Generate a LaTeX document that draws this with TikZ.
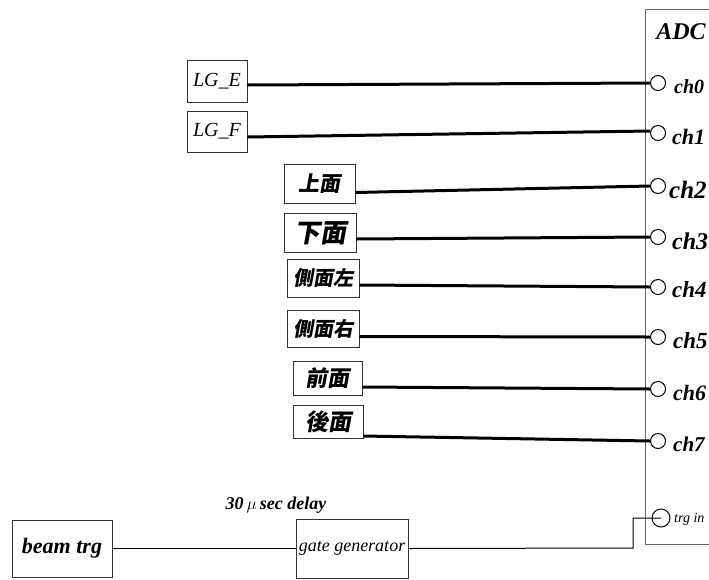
\documentclass[tikz,border=0pt]{standalone}
\usepackage{fontspec}
\setmainfont{Liberation Serif}
\newfontfamily\cjk[FakeSlant=0.18]{Noto Sans CJK JP}
\begin{document}
\begin{tikzpicture}[x=1pt,y=-1pt,
  box/.style={draw=black!80,line width=0.9pt,rectangle,inner sep=0pt},
  port/.style={draw=black,line width=1pt,circle,minimum size=15pt,inner sep=0pt},
  wire/.style={draw=black,line width=3pt},
  thinwire/.style={draw=black,line width=1pt},
  lab/.style={font=\itshape,inner sep=0pt,anchor=west}]
\useasboundingbox (0,0) rectangle (709,579);
\clip (0,0) rectangle (709,579);
% ADC
\node[box,draw=black!60,minimum width=80pt,minimum height=535pt] (adc) at (685,276.5) {};
\node[font=\itshape\bfseries\fontsize{24}{26}\selectfont,inner sep=0pt] (adct) at (681,32) {ADC};
% ports
\node[port] (c0) at (658,83) {};
\node[port] (c1) at (658,133) {};
\node[port] (c2) at (658,186) {};
\node[port] (c3) at (658,237) {};
\node[port] (c4) at (658,287) {};
\node[port] (c5) at (658,337) {};
\node[port] (c6) at (658,389) {};
\node[port] (c7) at (658,441) {};
\node[port,minimum size=18pt] (trg) at (661,518) {};
\node[lab,font=\itshape\bfseries\fontsize{20}{22}\selectfont] (l0) at (674,87) {ch0};
\node[lab,font=\itshape\bfseries\fontsize{22}{24}\selectfont] (l1) at (672,137) {ch1};
\node[lab,font=\itshape\bfseries\fontsize{25}{27}\selectfont] (l2) at (669,190) {ch2};
\node[lab,font=\itshape\bfseries\fontsize{24}{26}\selectfont] (l3) at (672,241) {ch3};
\node[lab,font=\itshape\bfseries\fontsize{23}{25}\selectfont] (l4) at (672,290) {ch4};
\node[lab,font=\itshape\bfseries\fontsize{23}{25}\selectfont] (l5) at (673,341) {ch5};
\node[lab,font=\itshape\bfseries\fontsize{22}{24}\selectfont] (l6) at (673,393) {ch6};
\node[lab,font=\itshape\bfseries\fontsize{21}{23}\selectfont] (l7) at (673,444) {ch7};
\node[lab,font=\itshape\fontsize{14}{16}\selectfont] (lt) at (674,519) {trg in};
% sources
\node[box,minimum width=60pt,minimum height=42pt,font=\itshape\fontsize{20}{22}\selectfont] (lge) at (217,81) {LG\_E};
\node[box,minimum width=60pt,minimum height=41pt,font=\itshape\fontsize{20}{22}\selectfont] (lgf) at (217,131.5) {LG\_F};
\node[box,minimum width=71pt,minimum height=39pt,font=\cjk\bfseries\fontsize{21}{23}\selectfont] (top) at (319.5,183.5) {上面};
\node[box,minimum width=72pt,minimum height=39pt,font=\cjk\bfseries\fontsize{26}{28}\selectfont] (bot) at (320,233) {下面};
\node[box,minimum width=72pt,minimum height=38pt,font=\cjk\bfseries\fontsize{20}{22}\selectfont] (sl) at (323,278) {側面左};
\node[box,minimum width=72pt,minimum height=37pt,font=\cjk\bfseries\fontsize{20}{22}\selectfont] (sr) at (323,328.5) {側面右};
\node[box,minimum width=69pt,minimum height=34pt,font=\cjk\bfseries\fontsize{22}{24}\selectfont] (fr) at (327.5,378) {前面};
\node[box,minimum width=70pt,minimum height=33pt,font=\cjk\bfseries\fontsize{23}{25}\selectfont] (bk) at (328,421.5) {後面};
% wires
\draw[wire] ([yshift=-4pt]lge.east) -- (c0.west);
\draw[wire] ([yshift=-5.5pt]lgf.east) -- ([yshift=2pt]c1.west);
\draw[wire] ([yshift=-9pt]top.east) -- (c2.west);
\draw[wire] ([yshift=-6pt]bot.east) -- (c3.west);
\draw[wire] ([yshift=-7pt]sl.east) -- (c4.west);
\draw[wire] ([yshift=-8pt]sr.east) -- (c5.west);
\draw[wire] ([yshift=-9pt]fr.east) -- (c6.west);
\draw[wire] ([yshift=-14.5pt]bk.east) -- (c7.west);
% trigger chain
\node[box,minimum width=100pt,minimum height=57pt,font=\itshape\bfseries\fontsize{22}{24}\selectfont] (beam) at (62,548.5) {beam trg};
\node[box,minimum width=112pt,minimum height=59pt,font=\itshape\fontsize{18}{20}\selectfont] (gate) at (352,548.5) {gate generator};
\node[font=\itshape\bfseries\fontsize{18}{20}\selectfont,inner sep=0pt] (dly) at (276,505) {30\,$\mu$\,sec delay};
\coordinate (bend) at (633,548);
\draw[thinwire] (beam.east) -- (gate.west);
\draw[thinwire] (gate.east) -- (bend) |- (trg.center);
\end{tikzpicture}
\end{document}
